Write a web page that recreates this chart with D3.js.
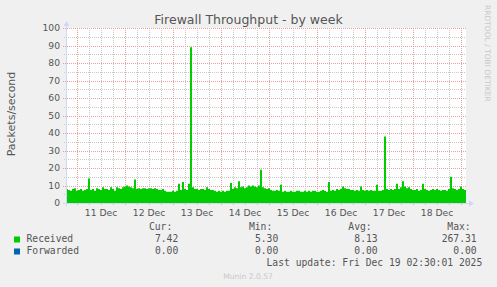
<!DOCTYPE html>
<html><head><meta charset="utf-8">
<script src="https://cdn.jsdelivr.net/npm/d3@7"></script>
<style>body{margin:0;background:#F0F0F0;}svg{display:block;}</style>
</head><body>
<script>
// ---- data ----
const startTime = new Date(2025, 11, 10, 18, 30);
const endTime = new Date(2025, 11, 19, 2, 30);
const yTicks = [0, 10, 20, 30, 40, 50, 60, 70, 80, 90, 100];
const seriesNames = ["Received", "Forwarded"];
const seriesColors = ["#00CC00", "#0066B3"];
// hourly packets/second, received
const received = [
  8, 7.5, 7, 8, 8.5, 7, 7.5, 8, 7, 7.5, 8,
  14,
  7.5, 8, 7, 8.5, 8, 7.5, 9, 8, 8, 7.5, 9, 8, 7, 9, 8.5, 8, 9,
  9.5, 10, 9.5, 9,
  8.5,
  13.5,
  8, 8.5, 8, 8.5, 8.5, 8, 8.5, 8.5, 8, 8.5, 8, 7.5,
  7.5, 8, 7,
  6.5, 6.5, 6.5, 7, 6.5, 7,
  11, 7.5, 12, 8, 7.5, 11,
  89,
  9, 8, 8, 7.5, 8, 8,
  7.5, 9, 8, 7.5, 7.5, 7,
  6.5, 7, 6.5, 7, 6.5, 7, 7,
  11.5, 8, 9, 8.5, 12.5,
  9, 9.5, 8.5, 9, 10, 9.5, 10, 9.5, 9, 10,
  19,
  9, 8.5, 8, 8.5, 7.5, 7,
  7, 7.5, 7,
  10.5,
  6.5, 7, 6.5, 6.5, 7, 6.5, 6.5, 7, 7, 6.5, 6.5, 7, 6.5, 7, 6.5, 7, 7, 6.5, 6.5, 7, 7.5, 7, 6.5,
  12,
  7, 7.5, 7, 8, 7.5, 8, 9.5, 8.5, 8, 8, 7.5, 7.5, 7, 7.5, 7,
  9.5,
  7.5, 7, 7.5, 7, 7.5, 7, 7,
  10.5,
  7, 7, 7.5,
  38,
  8, 7.5, 8, 7.5, 8,
  11, 8, 9, 12.5,
  9.5, 8.5, 9, 8, 7.5, 7.5, 8, 7, 7.5,
  11,
  8, 7.5, 7, 7.5, 8, 7.5, 8, 7.5, 7, 7.5, 7.5, 7, 8,
  15,
  8.5, 8, 7.5, 8, 9.5, 8, 7.5
];
const forwarded = received.map(() => 0);
const legendHeaders = ["Cur:", "Min:", "Avg:", "Max:"];
const legendValues = [
  ["7.42", "5.30", "8.13", "267.31"],
  ["0.00", "0.00", "0.00", "0.00"]
];
const titleText = "Firewall Throughput - by week";
const yLabel = "Packets/second";
const lastUpdate = "Last update: Fri Dec 19 02:30:01 2025";
const watermarkRight = "RRDTOOL / TOBI OETIKER";
const watermarkBottom = "Munin 2.0.57";

// ---- drawing ----
const W = 497, H = 287;
const svg = d3.select("body").append("svg").attr("width", W).attr("height", H);
svg.append("rect").attr("width", W).attr("height", H).attr("fill", "#F0F0F0");

const x = d3.scaleTime().domain([startTime, endTime]).range([66, 466]);
const y = d3.scaleLinear().domain([0, 100]).range([203, 28]);

svg.append("rect").attr("x", 66).attr("y", 28).attr("width", 400).attr("height", 175).attr("fill", "#FFFFFF");

const sans = "'DejaVu Sans', sans-serif";
const mono = "'DejaVu Sans Mono', monospace";
const fontCol = "#555555";

const step = (endTime - startTime) / received.length;
const toPts = arr => {
  const p = arr.map((v, i) => ({t: new Date(+startTime + i * step), v}));
  p.push({t: endTime, v: arr[arr.length - 1]});
  return p;
};

// grid
const g = svg.append("g");
const minorY = d3.range(5, 100, 10);
g.selectAll(".mny").data(minorY).join("line")
  .attr("x1", 64).attr("x2", 466).attr("y1", d => Math.round(y(d)) + 0.5).attr("y2", d => Math.round(y(d)) + 0.5)
  .attr("stroke", "#C8C8C8").attr("stroke-dasharray", "1,1");
const minorX = d3.timeHour.every(6).range(startTime, endTime).filter(d => d.getHours() !== 0);
g.selectAll(".mnx").data(minorX).join("line")
  .attr("x1", d => Math.round(x(d)) + 0.5).attr("x2", d => Math.round(x(d)) + 0.5)
  .attr("y1", 28).attr("y2", 205)
  .attr("stroke", "#C8C8C8").attr("stroke-dasharray", "1,1");
g.selectAll(".mjy").data(yTicks).join("line")
  .attr("x1", 63).attr("x2", 466).attr("y1", d => Math.round(y(d)) + 0.5).attr("y2", d => Math.round(y(d)) + 0.5)
  .attr("stroke", "#E8A0A0").attr("stroke-dasharray", "1,1");
const days = d3.timeDay.range(startTime, endTime);
g.selectAll(".mjx").data(days).join("line")
  .attr("x1", d => Math.round(x(d)) + 0.5).attr("x2", d => Math.round(x(d)) + 0.5)
  .attr("y1", 28).attr("y2", 206)
  .attr("stroke", "#E8A0A0").attr("stroke-dasharray", "1,1");

// data
const area = d3.area().curve(d3.curveStepAfter)
  .x(d => x(d.t)).y0(y(0)).y1(d => y(Math.min(d.v, 100)));
svg.append("path").datum(toPts(received)).attr("d", area).attr("fill", seriesColors[0]);
const line = d3.line().curve(d3.curveStepAfter).x(d => x(d.t)).y(d => y(d.v) + 0.5);
svg.append("path").datum(toPts(forwarded)).attr("d", line).attr("fill", "none")
  .attr("stroke", seriesColors[1]).attr("stroke-width", 1);

// axes
const axCol = "#CFD6F8";
svg.append("line").attr("x1", 63).attr("x2", 470).attr("y1", 203.5).attr("y2", 203.5).attr("stroke", axCol);
svg.append("path").attr("d", "M469,200.5 L474,203.5 L469,206.5 Z").attr("fill", axCol);
svg.append("line").attr("x1", 66.5).attr("x2", 66.5).attr("y1", 206).attr("y2", 25).attr("stroke", axCol);
svg.append("path").attr("d", "M63.5,26 L66.5,21 L69.5,26 Z").attr("fill", axCol);

// y tick labels
svg.selectAll(".yl").data(yTicks).join("text")
  .attr("x", 60).attr("y", d => y(d) + 3.4).attr("text-anchor", "end")
  .attr("font-family", sans).attr("font-size", "9.2px").attr("fill", fontCol).text(d => d);

// x tick labels at noon
const fmt = d3.timeFormat("%d Dec");
const noons = days.map(d => d3.timeHour.offset(d, 12)).filter(d => d < endTime && d > startTime);
svg.selectAll(".xl").data(noons).join("text")
  .attr("x", d => x(d)).attr("y", 216).attr("text-anchor", "middle")
  .attr("font-family", sans).attr("font-size", "9.2px").attr("fill", fontCol).text(d => fmt(d));

// title & labels
svg.append("text").attr("x", 248.5).attr("y", 24).attr("text-anchor", "middle")
  .attr("font-family", sans).attr("font-size", "12.5px").attr("fill", fontCol).text(titleText);
svg.append("text").attr("transform", "translate(15,114) rotate(-90)").attr("text-anchor", "middle")
  .attr("font-family", sans).attr("font-size", "11px").attr("fill", fontCol).text(yLabel);
svg.append("text").attr("transform", "translate(484.5,5) rotate(90)")
  .attr("font-family", sans).attr("font-size", "7.5px").attr("fill", "#C8C8C8").text(watermarkRight);

// legend
const colEnds = [178.3, 278.3, 377.7, 476.7];
svg.selectAll(".lh").data(legendHeaders).join("text")
  .attr("x", (d, i) => colEnds[i] - 6).attr("y", 230).attr("text-anchor", "end")
  .attr("font-family", mono).attr("font-size", "9.7px").attr("fill", fontCol).text(d => d);
seriesNames.forEach((name, r) => {
  const by = 242 + r * 12;
  svg.append("rect").attr("x", 14).attr("y", by - 5.5).attr("width", 6).attr("height", 6).attr("fill", seriesColors[r]);
  svg.append("text").attr("x", 26.5).attr("y", by).attr("font-family", mono).attr("font-size", "9.7px")
    .attr("fill", fontCol).text(name);
  legendValues[r].forEach((v, c) => {
    svg.append("text").attr("x", colEnds[c]).attr("y", by).attr("text-anchor", "end")
      .attr("font-family", mono).attr("font-size", "9.7px").attr("fill", fontCol).text(v);
  });
});
svg.append("text").attr("x", 482.3).attr("y", 266).attr("text-anchor", "end")
  .attr("font-family", mono).attr("font-size", "9.7px").attr("fill", fontCol).text(lastUpdate);
svg.append("text").attr("x", 248).attr("y", 279).attr("text-anchor", "middle")
  .attr("font-family", sans).attr("font-size", "7.6px").attr("fill", "#C8C8C8").text(watermarkBottom);
</script>
</body></html>
